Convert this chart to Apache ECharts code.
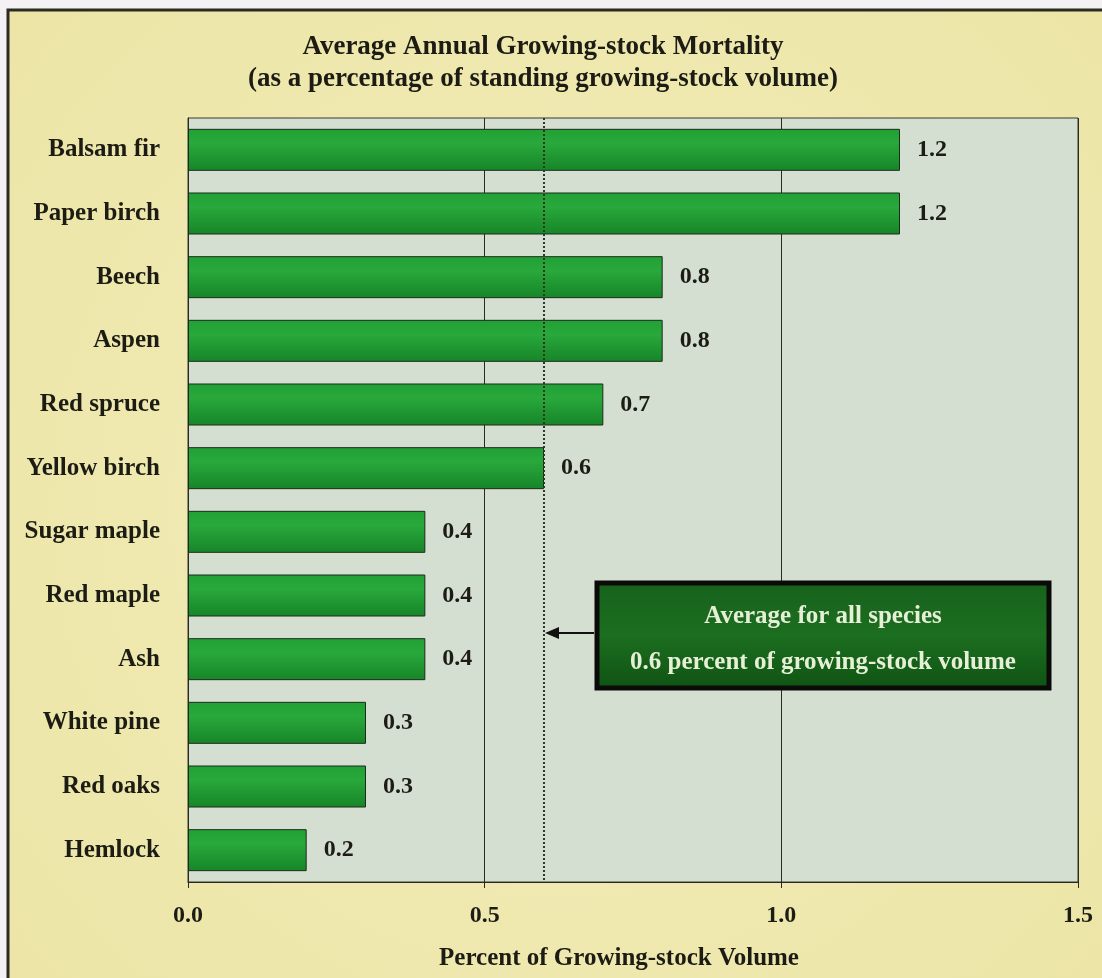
<!DOCTYPE html>
<html>
<head>
<meta charset="utf-8">
<script src="https://cdn.jsdelivr.net/npm/echarts@6/dist/echarts.min.js"></script>
<style>
  html, body { margin: 0; padding: 0; background: #f3f1f3; }
  #chart { width: 1102px; height: 978px; }
</style>
</head>
<body>
<div id="chart"></div>
<script>
// data
const species = ['Balsam fir', 'Paper birch', 'Beech', 'Aspen', 'Red spruce', 'Yellow birch',
  'Sugar maple', 'Red maple', 'Ash', 'White pine', 'Red oaks', 'Hemlock']
const mortality = [1.2, 1.2, 0.8, 0.8, 0.7, 0.6, 0.4, 0.4, 0.4, 0.3, 0.3, 0.2]
const avgAll = 0.6
const xTicks = [0, 0.5, 1.0, 1.5]

const font = 'Liberation Serif, Times New Roman, serif'
const ink = '#1c1c14'

const chart = echarts.init(document.getElementById('chart'))

const option = {
  backgroundColor: '#f3f1f3',
  title: {
    text: 'Average Annual Growing-stock Mortality\n(as a percentage of standing growing-stock volume)',
    left: 538,
    top: 26,
    textAlign: 'center',
    textStyle: { fontFamily: font, fontWeight: 'bold', fontSize: 27, lineHeight: 32, color: ink }
  },
  grid: {
    left: 188,
    right: 24,
    top: 118,
    bottom: 96,
    outerBoundsMode: 'none',
    show: true,
    backgroundColor: '#d4ded1',
    borderColor: '#3a3a30',
    borderWidth: 1
  },
  xAxis: {
    type: 'value',
    min: xTicks[0],
    max: xTicks[xTicks.length - 1],
    interval: 0.5,
    name: 'Percent of Growing-stock Volume',
    nameLocation: 'middle',
    nameGap: 64,
    nameTextStyle: {
      fontFamily: font, fontWeight: 'bold', fontSize: 25, color: ink,
      padding: [0, 28, 0, 0]
    },
    axisLine: { show: true, lineStyle: { color: '#2a2a22', width: 1 } },
    axisTick: { show: true, length: 6, lineStyle: { color: '#2a2a22' } },
    axisLabel: {
      margin: 22,
      fontFamily: font, fontWeight: 'bold', fontSize: 24, color: ink,
      formatter: v => v.toFixed(1)
    },
    splitLine: { show: true, lineStyle: { color: '#2a2a22', width: 1 } }
  },
  yAxis: {
    type: 'category',
    inverse: true,
    data: species,
    axisLine: { show: true, lineStyle: { color: '#2a2a22', width: 1 } },
    axisTick: { show: false },
    axisLabel: { margin: 28, fontFamily: font, fontWeight: 'bold', fontSize: 25, color: ink }
  },
  series: [{
    type: 'bar',
    data: mortality,
    barWidth: 42,
    itemStyle: {
      color: new echarts.graphic.LinearGradient(0, 0, 0, 1, [
        { offset: 0, color: '#21a035' },
        { offset: 0.35, color: '#29a83b' },
        { offset: 1, color: '#168528' }
      ]),
      borderColor: '#1c2c1a',
      borderWidth: 1
    },
    label: {
      show: true,
      position: 'right',
      distance: 17,
      fontFamily: font, fontWeight: 'bold', fontSize: 24, color: ink,
      formatter: p => p.value.toFixed(1)
    },
    markLine: {
      silent: true,
      symbol: 'none',
      label: { show: false },
      lineStyle: { type: 'dotted', color: '#333328', width: 2 },
      data: [{ xAxis: avgAll }]
    }
  }]
}

chart.setOption(option)

// annotation box + arrow pointing at the average line
const avgX = chart.convertToPixel({ xAxisIndex: 0 }, avgAll)
const boxX = 597, boxY = 583, boxW = 452, boxH = 105
const arrowY = 633

chart.setOption({
  graphic: [
    {
      type: 'rect',
      z: -100,
      shape: { x: 8, y: 10, width: 1110, height: 990 },
      style: {
        fill: new echarts.graphic.RadialGradient(0.5, 0.5, 0.8, [
          { offset: 0, color: '#f3eebd' },
          { offset: 1, color: '#ebe4a4' }
        ]),
        stroke: '#2b2b22',
        lineWidth: 3
      }
    },
    {
      type: 'rect',
      z: 100,
      shape: { x: boxX, y: boxY, width: boxW, height: boxH },
      style: {
        fill: new echarts.graphic.LinearGradient(0, 0, 0, 1, [
          { offset: 0, color: '#17621c' },
          { offset: 0.5, color: '#1c6e20' },
          { offset: 1, color: '#0f5213' }
        ]),
        stroke: '#0a0a08',
        lineWidth: 5
      }
    },
    {
      type: 'text',
      z: 101,
      x: boxX + boxW / 2,
      y: 617,
      style: {
        text: 'Average for all species',
        fill: '#e6f0d6',
        font: 'bold 25px ' + font,
        align: 'center',
        verticalAlign: 'middle'
      }
    },
    {
      type: 'text',
      z: 101,
      x: boxX + boxW / 2,
      y: 663,
      style: {
        text: '0.6 percent of growing-stock volume',
        fill: '#e6f0d6',
        font: 'bold 25px ' + font,
        align: 'center',
        verticalAlign: 'middle'
      }
    },
    {
      type: 'line',
      z: 100,
      shape: { x1: boxX - 3, y1: arrowY, x2: avgX + 10, y2: arrowY },
      style: { stroke: '#111', lineWidth: 2 }
    },
    {
      type: 'polygon',
      z: 100,
      shape: { points: [[avgX + 1, arrowY], [avgX + 15, arrowY - 6], [avgX + 15, arrowY + 6]] },
      style: { fill: '#111' }
    }
  ]
})
</script>
</body>
</html>
